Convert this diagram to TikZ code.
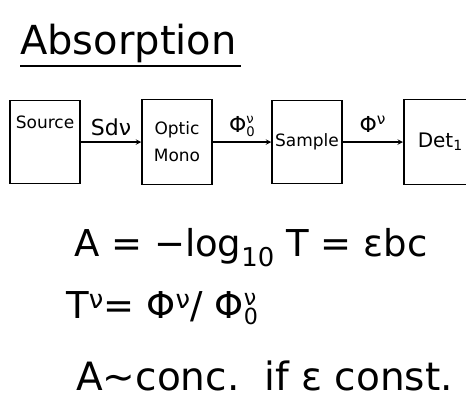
\documentclass[tikz,border=0pt]{standalone}
\usepackage{fontspec}
\setmainfont{DejaVu Sans}
\newcommand{\supsubx}[2]{\raisebox{-0.18em}{\fontsize{0.6em}{0.8em}\selectfont\shortstack[l]{#1\\#2}}}
\begin{document}
\begin{tikzpicture}[x=1pt,y=-1pt,
  blk/.style={draw, line width=1.5pt, minimum width=70pt, minimum height=83pt, inner sep=1pt, font=\fontsize{17}{19}\selectfont, align=center},
  lbl/.style={font=\fontsize{22}{24}\selectfont, inner sep=1pt},
  eq/.style={font=\fontsize{37}{40}\selectfont, anchor=base west, inner sep=0pt},
  conn/.style={->, line width=1.4pt, >=stealth}]
\useasboundingbox (0,0) rectangle (466,408);
\clip (0,0) rectangle (466,408);
% title
\node[font=\fontsize{40}{44}\selectfont, anchor=base west, inner sep=0pt] (title) at (20,54) {Absorption};
\draw[line width=1.5pt] (20,66) -- (241,66);
% blocks
\node[blk] (src) at (45,142) {Source\\[20pt]};
\node[blk, minimum height=85pt] (mono) at (177,142) {Optic\\[8pt]Mono};
\node[blk] (samp) at (307,142) {Sample};
\node[blk, anchor=west, minimum width=90pt, minimum height=85pt, text width=62pt, align=left, font=\fontsize{20}{22}\selectfont] (det) at (403,142) {Det\textsubscript{1}};
% connectors
\draw[conn] (src) -- (mono) node[midway, above=4pt, lbl] (l1) {Sdν};
\draw[conn] (mono) -- (samp) node[midway, above=4pt, lbl] (l2) {Φ\supsubx{ν}{0}};
\draw[conn] (samp) -- (det) node[midway, above=8pt, lbl] (l3) {Φ\textsuperscript{ν}};
% equations
\node[eq] (e1) at (74,256) {A = −log\textsubscript{10} T = εbc};
\node[eq] (e2) at (66,318) {T\textsuperscript{ν}= Φ\textsuperscript{ν}/ Φ\supsubx{ν}{0}};
\node[eq, font=\fontsize{39}{42}\selectfont] (e3) at (76,390) {A∼conc.\ \ if ε const.};
\end{tikzpicture}
\end{document}
